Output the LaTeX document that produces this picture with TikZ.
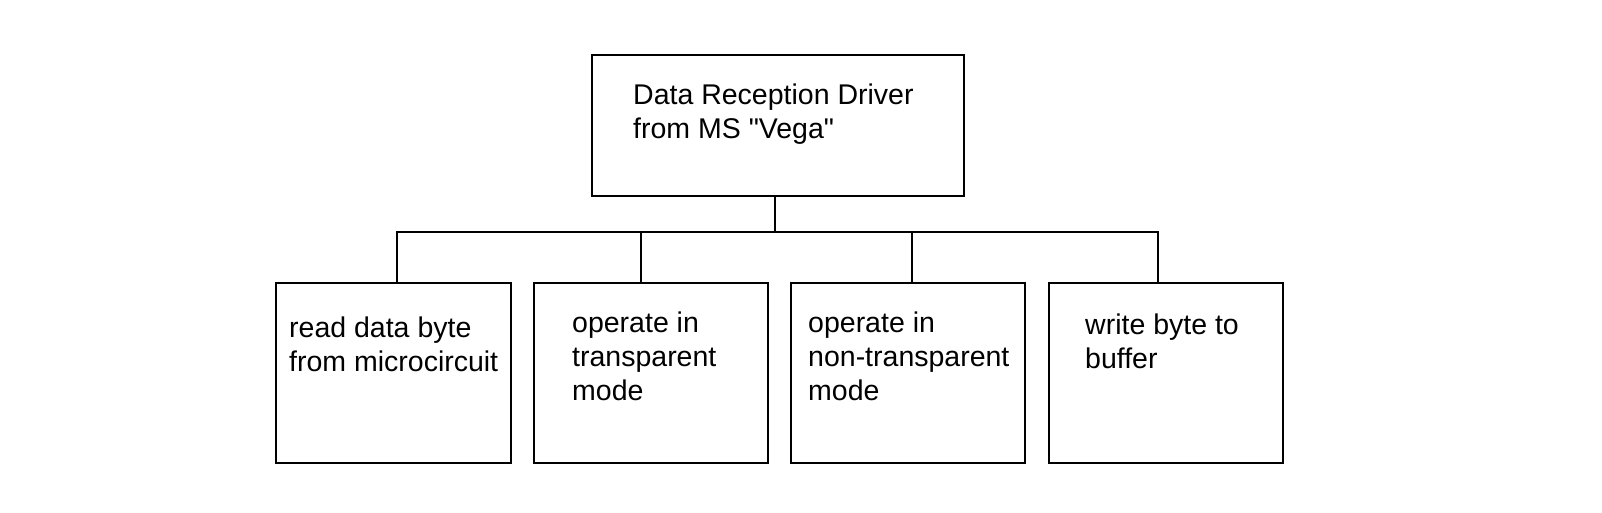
\documentclass[tikz,border=0pt]{standalone}
\usepackage{fontspec}
\setmainfont{Liberation Sans}
\begin{document}
\begin{tikzpicture}[x=1pt,y=-1pt,
  box/.style={draw,line width=2.5pt},
  lbl/.style={anchor=base west,inner sep=0pt,align=left,font=\fontsize{28.5}{34}\selectfont},
  wire/.style={line width=2.5pt}]
\useasboundingbox (0,0) rectangle (1602,512);
\node[box,minimum width=372pt,minimum height=141pt] (top) at (778,125.5) {};
\node[box,minimum width=235pt,minimum height=180pt] (b1) at (393.5,373) {};
\node[box,minimum width=234pt,minimum height=180pt] (b2) at (651,373) {};
\node[box,minimum width=234pt,minimum height=180pt] (b3) at (908,373) {};
\node[box,minimum width=234pt,minimum height=180pt] (b4) at (1166,373) {};
\node[lbl] (t0) at (633,138) {Data Reception Driver\\from MS \textquotedbl Vega\textquotedbl};
\node[lbl] (t1) at (289,371) {read data byte\\from microcircuit};
\node[lbl] (t2) at (572,400) {operate in\\transparent\\mode};
\node[lbl] (t3) at (808,400) {operate in\\non-transparent\\mode};
\node[lbl] (t4) at (1085,368) {write byte to\\buffer};
\coordinate (bus) at (775,232);
\draw[wire] (top.south -| bus) -- (bus);
\draw[wire] (b1.north -| 397,0) -- (397,232) -- (1158,232) -- (b4.north -| 1158,0);
\draw[wire] (641,232) -- (b2.north -| 641,0);
\draw[wire] (912,232) -- (b3.north -| 912,0);
\end{tikzpicture}
\end{document}
